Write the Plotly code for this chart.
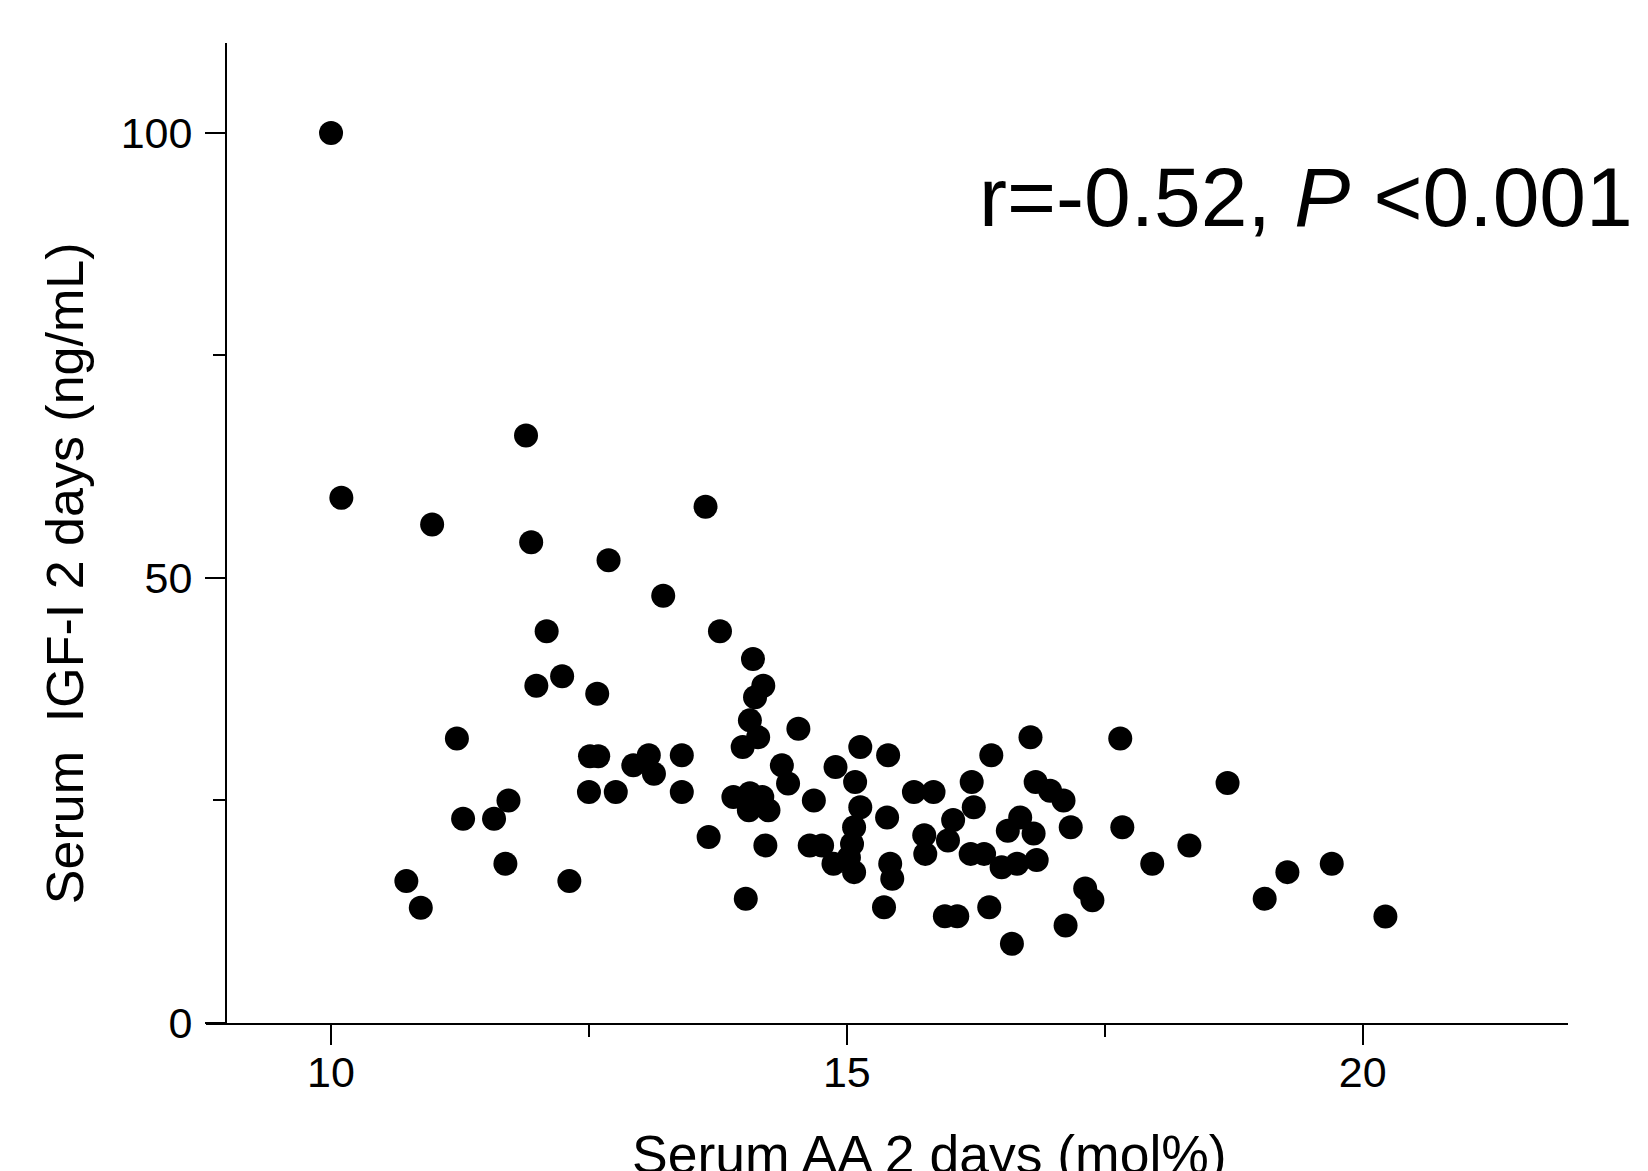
import plotly.graph_objects as go

# Serum AA 2 days (mol%)
aa = [10.00, 10.10, 10.98, 11.89, 11.94, 13.63, 12.69, 13.22, 12.09, 13.77,
      14.09, 12.24, 11.99, 12.58, 14.19, 14.11, 14.06, 14.14, 13.99, 14.53,
      11.22, 12.51, 12.59, 12.93, 13.08, 13.13, 13.40, 12.50, 12.76, 13.40,
      11.72, 11.58, 11.28, 11.69, 10.73, 10.87, 12.31, 13.66, 14.02, 14.37,
      14.43, 14.68, 14.89, 15.08, 15.13, 15.40, 15.65, 15.84, 16.21, 16.40,
      16.78, 17.65, 16.83, 16.97, 17.10, 17.17, 17.67, 13.90, 14.06, 14.18,
      14.05, 14.24, 14.21, 14.64, 14.76, 14.87, 15.07, 15.39, 15.13, 15.07,
      15.05, 15.02, 15.42, 15.44, 15.36, 15.75, 15.76, 16.23, 16.03, 15.98,
      16.20, 16.33, 16.50, 16.65, 16.84, 16.56, 16.68, 16.81, 15.95, 16.07,
      16.38, 16.60, 17.12, 17.31, 17.38, 18.69, 18.32, 17.96, 19.27, 19.70,
      19.05, 20.22]

# Serum IGF-I 2 days (ng/mL)
igf = [100.0, 59.0, 56.0, 66.0, 54.0, 58.0, 52.0, 48.0, 44.0, 44.0,
       40.9, 38.95, 37.9, 37.0, 37.9, 36.6, 34.0, 32.1, 31.0, 33.07,
       31.95, 29.96, 29.96, 28.95, 30.07, 28.0, 30.07, 25.95, 25.95, 25.95,
       25.0, 22.95, 22.95, 17.9, 15.94, 12.95, 15.94, 20.9, 13.96, 28.95,
       26.9, 25.0, 28.75, 27.07, 31.0, 30.07, 25.95, 25.95, 27.07, 30.07,
       32.1, 31.95, 27.07, 26.1, 25.0, 22.0, 22.0, 25.4, 25.8, 25.4,
       23.9, 23.9, 19.95, 19.95, 19.95, 17.9, 16.95, 23.1, 24.25, 22.0,
       20.1, 18.6, 17.9, 16.2, 13.0, 21.1, 19.0, 24.25, 22.8, 20.5,
       19.0, 19.0, 17.5, 17.9, 18.3, 21.6, 23.1, 21.3, 12.0, 12.0,
       13.0, 8.9, 10.96, 15.1, 13.8, 26.96, 19.95, 17.9, 16.95, 17.9,
       13.96, 11.97]

x_ticks = [10, 15, 20]
y_ticks = [0, 50, 100]
x_title = "Serum AA 2 days (mol%)"
y_title = "Serum\u00a0 IGF-I 2 days (ng/mL)"
stat_text = "r=-0.52, <i>P</i> <0.001"

FONT = "Liberation Sans, Arial, sans-serif"

fig = go.Figure()
fig.add_trace(go.Scatter(
    x=aa, y=igf, mode="markers",
    marker=dict(color="black", size=24, line=dict(width=0)),
    showlegend=False,
))

axis_common = dict(
    showline=True, linewidth=2, linecolor="black",
    ticks="outside", ticklen=20, tickwidth=2, tickcolor="black",
    showgrid=False, zeroline=False,
    tickfont=dict(family=FONT, size=43, color="black"),
)

# the page body adds an 8px offset, so the figure is 8px smaller
fig.update_layout(
    width=1640, height=1163,
    margin=dict(l=198, r=80, t=35, b=148),
    paper_bgcolor="white", plot_bgcolor="white",
    font=dict(family=FONT, color="black"),
    xaxis=dict(
        range=[8.788, 21.99], tickvals=x_ticks,
        minor=dict(dtick=2.5, tick0=0, ticks="outside", ticklen=12, tickwidth=2, tickcolor="black"),
        ticklabelstandoff=-10,
        **axis_common,
    ),
    yaxis=dict(
        range=[0, 110.1], tickvals=y_ticks,
        anchor="free", position=0.01468,
        minor=dict(dtick=25, tick0=0, ticks="outside", ticklen=12, tickwidth=2, tickcolor="black"),
        ticklabelstandoff=4,
        **axis_common,
    ),
    annotations=[
        dict(text=stat_text, x=16.26, y=92.8, xref="x", yref="y",
             xanchor="left", yanchor="middle", showarrow=False,
             font=dict(family=FONT, size=84, color="black")),
        dict(text=x_title, x=15.80, y=-0.102, xref="x", yref="paper",
             xanchor="center", yanchor="top", showarrow=False,
             font=dict(family=FONT, size=53.5, color="black")),
        dict(text=y_title, x=-0.1035, y=0.459, xref="paper", yref="paper",
             xanchor="center", yanchor="middle", showarrow=False, textangle=-90,
             font=dict(family=FONT, size=52, color="black")),
    ],
)

fig.write_html("out.html")
